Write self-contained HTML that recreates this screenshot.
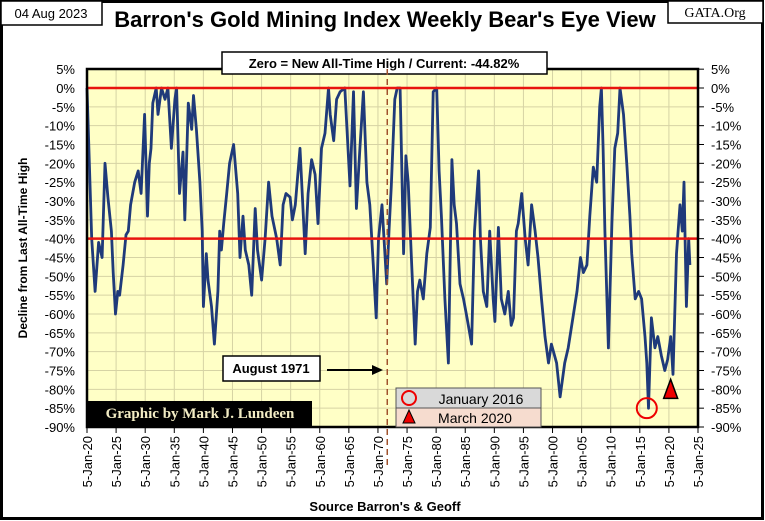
<!DOCTYPE html>
<html><head><meta charset="utf-8"><style>
body{margin:0;background:#fff;}
svg{display:block;font-family:"Liberation Sans",sans-serif;}
</style></head><body>
<svg id="c" width="765" height="521" viewBox="0 0 765 521" xmlns="http://www.w3.org/2000/svg">
<rect x="1.5" y="1.5" width="761" height="517" fill="#fff" stroke="#000" stroke-width="3"/>
<rect x="1" y="1" width="101" height="24" fill="#fff" stroke="#000" stroke-width="1.5"/>
<text x="51" y="18" font-size="13" text-anchor="middle">04 Aug 2023</text>
<text x="385" y="27" font-size="22" font-weight="bold" text-anchor="middle" font-family="Liberation Sans, sans-serif">Barron's Gold Mining Index Weekly Bear's Eye View</text>
<rect x="668" y="1" width="95" height="22" fill="#fff" stroke="#000" stroke-width="1.5"/>
<text x="715" y="17" font-size="14" text-anchor="middle" font-family="Liberation Serif, serif">GATA.Org</text>
<rect id="plotbg" x="87" y="69" width="611" height="358" fill="#ffffc6"/>
<g id="grid"></g>
<g id="series"></g>
<rect x="87" y="69" width="611" height="358" fill="none" stroke="#000" stroke-width="2.5"/>
<g id="axes"></g>
<rect x="222" y="52" width="325" height="22" fill="#fff" stroke="#000" stroke-width="1.5"/>
<text x="384" y="68" font-size="13" font-weight="bold" text-anchor="middle">Zero = New All-Time High / Current: -44.82%</text>
<rect x="223" y="356" width="97" height="25" fill="#fff" stroke="#000" stroke-width="1.5"/>
<text x="271" y="373" font-size="13" font-weight="bold" text-anchor="middle">August 1971</text>
<line x1="327" y1="370" x2="376" y2="370" stroke="#000" stroke-width="2"/>
<polygon points="383,370 372,365 372,375" fill="#000"/>
<rect x="87" y="401" width="225" height="25" fill="#000"/>
<text x="200" y="418" font-size="15" font-weight="bold" fill="#f2ecc4" text-anchor="middle" font-family="Liberation Serif, serif">Graphic by Mark J. Lundeen</text>
<g>
<rect x="396" y="388" width="145" height="20" fill="#d9d9d9" stroke="#555" stroke-width="1"/>
<rect x="396" y="408" width="145" height="19" fill="#f6dccf" stroke="#555" stroke-width="1"/>
<circle cx="409" cy="398" r="7" fill="none" stroke="#e00" stroke-width="2"/>
<polygon points="409,410 403,423 415,423" fill="#e00" stroke="#000" stroke-width="1"/>
<text x="481" y="404" font-size="14" text-anchor="middle">January 2016</text>
<text x="475" y="423" font-size="14" text-anchor="middle">March 2020</text>
</g>
<g id="marks"></g>
<text transform="translate(27,248) rotate(-90)" font-size="12" font-weight="bold" text-anchor="middle">Decline from Last All-Time High</text>
<text x="385" y="511" font-size="13" font-weight="bold" text-anchor="middle">Source Barron's &amp; Geoff</text>
<script>
const years=[1920,1920.8,1921.4,1922,1922.6,1923.1,1923.6,1924.2,1924.5,1924.9,1925.3,1925.6,1926.2,1926.7,1927.1,1927.5,1928.2,1928.8,1929.3,1929.9,1930.4,1930.7,1931.0,1931.3,1931.9,1932.2,1932.8,1933.4,1933.9,1934.5,1935.1,1935.4,1935.9,1936.5,1936.8,1937.4,1938.0,1938.3,1938.8,1939.4,1939.8,1940.0,1940.5,1940.8,1941.4,1941.9,1942.5,1942.8,1943.1,1943.5,1944.0,1944.5,1945.2,1945.9,1946.3,1946.8,1947.2,1947.8,1948.3,1948.9,1949.3,1950.0,1950.6,1951.2,1951.8,1952.6,1953.2,1953.7,1954.2,1954.9,1955.3,1955.8,1956.6,1957.5,1958.0,1958.6,1959.2,1959.7,1960.3,1960.9,1961.5,1961.8,1962.4,1962.9,1963.5,1964.3,1965.2,1965.8,1966.3,1966.9,1967.5,1968.1,1968.6,1969.2,1969.7,1970.1,1970.7,1971.5,1971.9,1972.3,1972.9,1973.3,1973.8,1974.4,1974.8,1975.2,1975.8,1976.4,1976.8,1977.2,1977.8,1978.4,1979.0,1979.5,1980.1,1980.5,1980.9,1981.5,1982.1,1982.7,1983.1,1983.5,1984.1,1984.7,1985.3,1986.1,1986.6,1987.3,1987.6,1988.1,1988.7,1989.2,1989.8,1990.1,1990.7,1991.2,1991.8,1992.4,1992.9,1993.3,1993.8,1994.1,1994.7,1995.3,1995.8,1996.4,1997.0,1997.5,1998.1,1998.7,1999.3,1999.8,2000.7,2001.3,2002.1,2002.7,2003.6,2004.2,2004.8,2005.3,2005.9,2006.4,2007.0,2007.6,2008.1,2008.4,2008.7,2009.0,2009.6,2010.2,2010.7,2011.2,2011.6,2012.2,2012.8,2013.3,2013.6,2014.2,2014.8,2015.3,2015.9,2016.2,2016.5,2017.0,2017.6,2018.1,2018.7,2019.3,2019.8,2020.3,2020.7,2021.3,2021.9,2022.3,2022.6,2023.0,2023.4,2023.6];
const values=[0,-40,-54,-41,-45,-20,-29,-38,-49,-60,-54,-55,-47,-39,-38,-31,-25,-22,-28,-7,-34,-20,-16,-4,0,-7,0,-3,0,-16,-3,0,-28,-17,-35,-4,-11,-2,-11,-25,-38,-58,-44,-51,-58,-68,-54,-38,-43,-36,-28,-20,-15,-28,-45,-34,-43,-47,-55,-32,-43,-51,-40,-25,-34,-40,-47,-31,-28,-29,-35,-31,-16,-44,-28,-19,-23,-36,-16,-12,0,-7,-14,-3,-1,0,-26,-1,-32,-16,-1,-25,-31,-47,-61,-40,-31,-52,-38,-26,-3,0,0,-44,-18,-25,-47,-68,-54,-51,-56,-44,-37,-1,0,-22,-34,-56,-73,-19,-31,-36,-52,-56,-61,-68,-38,-22,-40,-54,-58,-38,-56,-62,-37,-56,-60,-54,-63,-61,-38,-36,-28,-40,-47,-31,-38,-45,-56,-66,-73,-68,-73,-82,-73,-69,-60,-54,-45,-49,-47,-34,-21,-25,-5,0,-16,-38,-69,-36,-16,-12,0,-7,-21,-34,-44,-56,-54,-56,-66,-73,-85,-61,-69,-66,-71,-75,-72,-66,-76,-44,-31,-38,-25,-58,-40,-47,-44.8];
const yTicks=[5,0,-5,-10,-15,-20,-25,-30,-35,-40,-45,-50,-55,-60,-65,-70,-75,-80,-85,-90];
const xTickYears=[1920,1925,1930,1935,1940,1945,1950,1955,1960,1965,1970,1975,1980,1985,1990,1995,2000,2005,2010,2015,2020,2025];
const xTickLabels=["5-Jan-20","5-Jan-25","5-Jan-30","5-Jan-35","5-Jan-40","5-Jan-45","5-Jan-50","5-Jan-55","5-Jan-60","5-Jan-65","5-Jan-70","5-Jan-75","5-Jan-80","5-Jan-85","5-Jan-90","5-Jan-95","5-Jan-00","5-Jan-05","5-Jan-10","5-Jan-15","5-Jan-20","5-Jan-25"];
const refLines=[0,-40];
const aug1971=1971.6;
const jan2016=[2016.2,-85];
const mar2020=[2020.3,-80];
const NS="http://www.w3.org/2000/svg";
const X=y=>87+(y-1920)*(611/105);
const Y=p=>88-(p)*(339/90);
function mk(t,a,parent){const e=document.createElementNS(NS,t);for(const k in a)e.setAttribute(k,a[k]);document.getElementById(parent).appendChild(e);return e;}
yTicks.forEach(v=>{
  const g=mk('line',{x1:87,x2:698,y1:Y(v),y2:Y(v),stroke:'#d6d3a4','stroke-width':1},'grid');
  
  
  const l=mk('text',{x:75,y:Y(v)+5,'font-size':13,'text-anchor':'end'},'axes');l.textContent=v+'%';
  
  
  const r=mk('text',{x:711,y:Y(v)+5,'font-size':13},'axes');r.textContent=v+'%';
  
  
  const t=mk('line',{x1:698,x2:704,y1:Y(v),y2:Y(v),stroke:'#000'},'axes');
  
  
});
xTickYears.forEach((yr,i)=>{
  const g=mk('line',{x1:X(yr),x2:X(yr),y1:69,y2:427,stroke:'#d6d3a4','stroke-width':1},'grid');
  
  
  const t=mk('line',{x1:X(yr),x2:X(yr),y1:427,y2:433,stroke:'#000'},'axes');
  
  
  const l=mk('text',{transform:`translate(${X(yr)+5},436) rotate(-90)`,'font-size':13,'text-anchor':'end'},'axes');
  l.textContent=xTickLabels[i];
  
  
});
const d=years.map((yr,i)=>(i?'L':'M')+X(yr).toFixed(1)+','+Y(values[i]).toFixed(1)).join('');
const p=mk('path',{d:d,fill:'none',stroke:'#1f3a7a','stroke-width':2.8,'stroke-linejoin':'round'},'series');


refLines.forEach(v=>{
  const r=mk('line',{x1:87,x2:698,y1:Y(v),y2:Y(v),stroke:'#e8140f','stroke-width':2.5},'series');
  
  
});
const dl=mk('line',{x1:X(aug1971),x2:X(aug1971),y1:69,y2:468,stroke:'#a0522d','stroke-width':1.5,'stroke-dasharray':'6,4'},'marks');


const c=mk('circle',{cx:X(jan2016[0]),cy:Y(jan2016[1]),r:10,fill:'none',stroke:'#e00','stroke-width':2},'marks');


const tx=X(mar2020[0]),ty=Y(mar2020[1]);
const tr=mk('polygon',{points:`${tx},${ty-10} ${tx-7},${ty+9} ${tx+7},${ty+9}`,fill:'#e00',stroke:'#000','stroke-width':1.5},'marks');


</script>
</svg>
</body></html>
